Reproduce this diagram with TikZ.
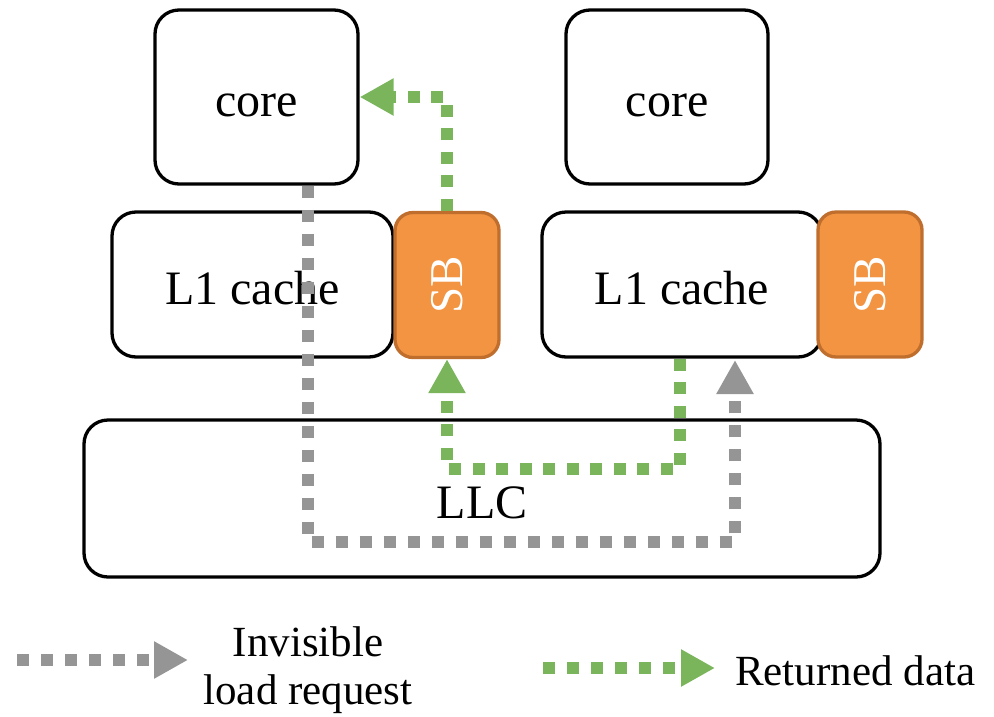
\documentclass[tikz,border=0pt]{standalone}
\usepackage{fontspec}
\setmainfont{Liberation Serif}
\usetikzlibrary{arrows.meta,calc}
\definecolor{sborange}{HTML}{F29441}
\definecolor{sbedge}{HTML}{BF6E2E}
\definecolor{retgreen}{HTML}{7AB55C}
\definecolor{reqgray}{HTML}{959595}
\begin{document}
\begin{tikzpicture}[x=1pt,y=-1pt,
  box/.style={draw=black,line width=3.3pt,rounded corners=24pt,fill=white,inner sep=0pt,
    text height=39pt,text depth=0pt,font=\fontsize{48}{52}\selectfont},
  sbbox/.style={draw=sbedge,fill=sborange,line width=3.3pt,rounded corners=18pt,inner sep=0pt,
    text=white,font=\fontsize{47}{50}\selectfont,minimum width=104pt,minimum height=145pt},
  reqline/.style={draw=reqgray,line width=12pt,dash pattern=on 12pt off 12pt,
    -{Triangle[width=35pt,length=34pt]}},
  retline/.style={draw=retgreen,line width=12pt,dash pattern=on 12pt off 11.5pt,
    -{Triangle[width=35pt,length=34pt]}},
  legtext/.style={font=\fontsize{43}{46}\selectfont,inner sep=0pt}]
\useasboundingbox (0,0) rectangle (994,716);
% boxes
\node[box,minimum width=203pt,minimum height=174pt] (coreL) at (256.5,97) {core};
\node[box,minimum width=202pt,minimum height=174pt] (coreR) at (667,97) {core};
\node[box,minimum width=281pt,minimum height=145pt] (L1L) at (252.5,284.5) {L1 cache};
\node[box,minimum width=280pt,minimum height=145pt] (L1R) at (682,284.5) {L1 cache};
\node[sbbox] (SBL) at (447,285) {\rotatebox{90}{SB}};
\node[sbbox] (SBR) at (870,284.5) {\rotatebox{90}{SB}};
\node[box,minimum width=796pt,minimum height=157pt] (LLC) at (482,498.5) {LLC};
% invisible load request path
\coordinate (gA) at (308,542);
\coordinate (gB) at (735,542);
\coordinate (gT) at (735,360);
\draw[reqline] (coreL.south -| gA) -- (gA) -- (gB) -- (gT);
% returned data path
\coordinate (rA) at (680,469);
\coordinate (rB) at (447,469);
\draw[retline] (L1R.south -| rA) -- (rA) -- (rB) -- (SBL.south);
\coordinate (rC) at (447,97);
\draw[retline] (SBL.north) -- (rC) -- (coreL.east);
% legend
\coordinate (lg1) at (17,660);
\coordinate (lg2) at (188,660);
\draw[reqline] (lg1) -- (lg2);
\node[legtext,align=center] (legReq) at (308,670) {Invisible\\[2pt]load request};
\coordinate (lg3) at (543,668);
\coordinate (lg4) at (715,668);
\draw[retline,dash pattern=on 12pt off 12pt] (lg3) -- (lg4);
\node[legtext,anchor=west] (legRet) at (735,671) {Returned data};
\end{tikzpicture}
\end{document}
